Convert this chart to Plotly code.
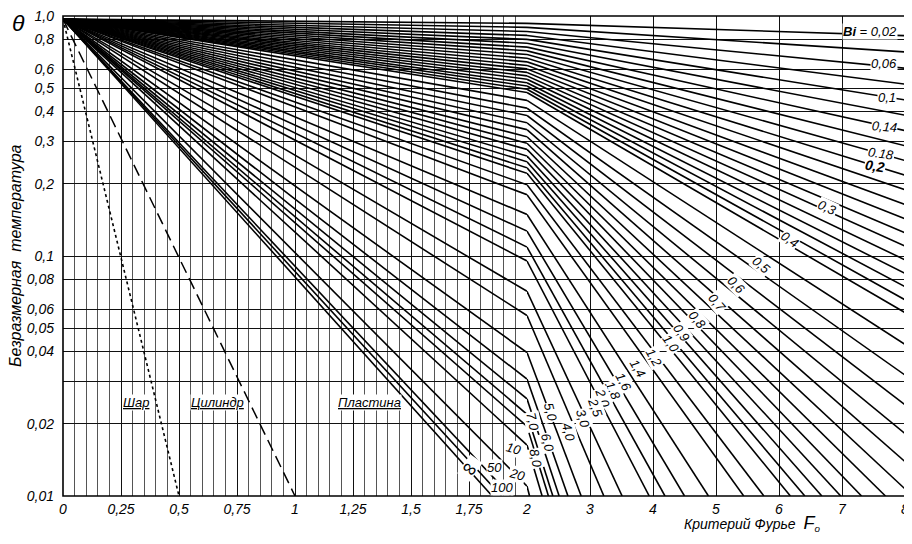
import math
import plotly.graph_objects as go

# ---------------- data ----------------
# Plate (Пластина) lines, labelled by Biot number
plate_bi = ["0,02", "0,04", "0,06", "0,08", "0,1", "0,12", "0,14", "0,16", "0,18", "0,2",
            "0,22", "0,24", "0,26", "0,28", "0,3", "0,32", "0,34", "0,36", "0,38", "0,4",
            "0,45", "0,5", "0,55", "0,6", "0,65", "0,7", "0,75", "0,8", "0,85", "0,9",
            "0,95", "1,0", "1,1", "1,2", "1,4", "1,6", "1,8", "2,0", "2,5", "3,0",
            "4,0", "5,0", "6,0", "7,0", "8,0", "10", "20", "50", "100", "∞"]
# common starting value at Fo = 0
theta_at_fo0 = 0.97
# theta where each line crosses Fo = 2 (None: reaches 0.01 earlier)
plate_theta_fo2 = [0.932, 0.897, 0.862, 0.830, 0.799, 0.770, 0.742, 0.716, 0.691, 0.667,
                   0.644, 0.622, 0.602, 0.582, 0.563, 0.545, 0.527, 0.511, 0.495, 0.480,
                   0.445, 0.413, 0.385, 0.359, 0.336, 0.314, 0.295, 0.278, 0.261, 0.247,
                   0.233, 0.221, 0.198, 0.180, 0.149, 0.127, 0.109, 0.0953, 0.0713, 0.0565,
                   0.0396, 0.0307, 0.0254, 0.0219, 0.0195, 0.0163, 0.0110, None, None, None]
# theta at Fo = 8 (None: line reaches 0.01 before Fo = 8)
plate_theta_fo8 = [0.828, 0.708, 0.606, 0.520, 0.447, 0.386, 0.333, 0.288, 0.250, 0.217,
                   0.189, 0.164, 0.143, 0.125, 0.110, 0.0964, 0.0846, 0.0745, 0.0657, 0.0581,
                   0.0428, 0.0319, 0.0240, 0.0182, 0.0139, 0.0107] + [None] * 24
# Fo where the line reaches theta = 0.01 (None: stays above it up to Fo = 8)
plate_fo_end = [None] * 26 + [7.69, 7.31, 6.98, 6.68, 6.41, 6.18, 5.76, 5.44, 4.88, 4.50,
                              4.19, 3.94, 3.51, 3.22, 2.86, 2.65, 2.51, 2.41, 2.34, 2.24,
                              2.04, 1.93, 1.89, 1.85]
theta_bottom = 0.01

sphere_fo = [0.0, 0.5]
sphere_theta = [0.97, 0.01]
cylinder_fo = [0.0, 1.0]
cylinder_theta = [0.97, 0.01]

x_ticks_left = [0, 0.25, 0.5, 0.75, 1, 1.25, 1.5, 1.75, 2]
x_ticktext_left = ["0", "0,25", "0,5", "0,75", "1", "1,25", "1,5", "1,75", "2"]
x_ticks_right = [3, 4, 5, 6, 7, 8]
x_ticktext_right = ["3", "4", "5", "6", "7", "8"]
y_ticks = [1.0, 0.8, 0.6, 0.5, 0.4, 0.3, 0.2, 0.1, 0.08, 0.06, 0.05, 0.04, 0.03, 0.02, 0.01]
y_ticktext = ["1,0", "0,8", "0,6", "0,5", "0,4", "0,3", "0,2", "0,1", "0,08", "0,06",
              "0,05", "0,04", " ", "0,02", "0,01"]

# ---------------- build line segments ----------------
lx, ly, rx, ry = [], [], [], []
for t2, t8, fe in zip(plate_theta_fo2, plate_theta_fo8, plate_fo_end):
    if t2 is not None:
        lx += [0, 2, None]; ly += [theta_at_fo0, t2, None]
        if t8 is not None:
            rx += [2, 8, None]; ry += [t2, t8, None]
        else:
            rx += [2, fe, None]; ry += [t2, theta_bottom, None]
    else:
        lx += [0, fe, None]; ly += [theta_at_fo0, theta_bottom, None]

fig = go.Figure()
LW = 1.6
fig.add_trace(go.Scatter(x=lx, y=ly, mode="lines", line=dict(color="black", width=LW),
                         xaxis="x", yaxis="y", hoverinfo="skip"))
fig.add_trace(go.Scatter(x=rx, y=ry, mode="lines", line=dict(color="black", width=LW),
                         xaxis="x2", yaxis="y", hoverinfo="skip"))
fig.add_trace(go.Scatter(x=sphere_fo, y=sphere_theta, mode="lines",
                         line=dict(color="black", width=1.6, dash="dot"),
                         xaxis="x", yaxis="y", hoverinfo="skip"))
fig.add_trace(go.Scatter(x=cylinder_fo, y=cylinder_theta, mode="lines",
                         line=dict(color="black", width=1.5, dash="12px,6px"),
                         xaxis="x", yaxis="y", hoverinfo="skip"))

FONT = "Liberation Sans"
ifont = dict(family=FONT, size=14, color="black", style="italic")

# the page body has an 8px margin, so the figure is sized 904x536
split = 464 / 842
fig.update_layout(
    width=904, height=536,
    margin=dict(l=55, r=7, t=8, b=48, autoexpand=False),
    paper_bgcolor="white", plot_bgcolor="white",
    showlegend=False,
    xaxis=dict(domain=[0, split], range=[0, 2], tickvals=x_ticks_left, ticktext=x_ticktext_left,
               tickfont=ifont, showgrid=True, gridcolor="#111", gridwidth=1.2,
               minor=dict(tick0=0, dtick=0.05, showgrid=True, gridcolor="#555", gridwidth=0.8),
               zeroline=False, showline=False, ticks="", ticklabelstandoff=3,
               ticklabeloverflow="allow", automargin=False),
    xaxis2=dict(domain=[split, 1], range=[2, 8], anchor="y", tickvals=x_ticks_right,
                ticktext=x_ticktext_right, tickfont=ifont, showgrid=True, gridcolor="#111",
                gridwidth=1.2, zeroline=False, showline=False, ticks="", ticklabelstandoff=3,
                ticklabeloverflow="allow", automargin=False),
    yaxis=dict(type="log", range=[-2, 0], tickvals=y_ticks, ticktext=y_ticktext,
               tickfont=ifont, showgrid=True, gridcolor="#111", gridwidth=1.1,
               zeroline=False, showline=False, ticks="", ticklabelstandoff=8,
               ticklabeloverflow="allow", automargin=False),
)

# frame
fig.add_shape(type="rect", xref="paper", yref="paper", x0=0, x1=1, y0=0, y1=1,
              line=dict(color="black", width=1.6))

ann = []
def lab(text, x, theta, xref, angle=0, size=13, bold=False):
    ann.append(dict(text=text, x=x, y=math.log10(theta), xref=xref, yref="y", showarrow=False,
                    textangle=angle,
                    font=dict(family=FONT, size=size, color="black", style="italic",
                              weight="bold" if bold else "normal"),
                    bgcolor="white", borderpad=0, xanchor="center", yanchor="middle"))

# Bi labels
lab("<b>Bi</b> = 0,02", 7.444, 0.858, "x2", 0, 13)
lab("0,06", 7.667, 0.631, "x2")
lab("0,1", 7.714, 0.4597, "x2")
lab("0,14", 7.667, 0.348, "x2", 5)
lab("0,18", 7.619, 0.2686, "x2", 8)
lab("0,2", 7.524, 0.237, "x2", 8, 14, True)
lab("0,3", 6.762, 0.160, "x2", 25)
lab("0,4", 6.175, 0.1177, "x2", 35)
lab("0,5", 5.73, 0.0917, "x2", 40)
lab("0,6", 5.333, 0.0757, "x2", 45)
lab("0,7", 5.016, 0.0643, "x2", 50)
lab("0,8", 4.714, 0.0541, "x2", 50)
lab("0,9", 4.444, 0.0478, "x2", 55)
lab("1,0", 4.286, 0.0434, "x2", 55)
lab("1,2", 4.016, 0.0379, "x2", 60)
lab("1,4", 3.762, 0.0341, "x2", 60)
lab("1,6", 3.524, 0.0299, "x2", 62)
lab("1,8", 3.365, 0.0276, "x2", 65)
lab("2,0", 3.206, 0.0256, "x2", 70)
lab("2,5", 3.079, 0.0233, "x2", 70)
lab("3,0", 2.889, 0.0211, "x2", 72)
lab("4,0", 2.651, 0.0185, "x2", 75)
lab("5,0", 2.365, 0.0224, "x2", 75)
lab("6,0", 2.333, 0.0166, "x2", 75)
lab("7,0", 2.095, 0.0203, "x2", 78)
lab("8,0", 2.127, 0.0144, "x2", 78)
lab("10", 1.940, 0.0157, "x", 15)
lab("20", 1.957, 0.01224, "x", 15)
lab("50", 1.862, 0.0132, "x", 0)
lab("100", 1.892, 0.0108, "x", 0)
lab("∞", 1.754, 0.0131, "x", 35, 20)

# body labels
lab("<u>Шар</u>", 0.315, 0.0246, "x", 0, 13)
lab("<u>Цилиндр</u>", 0.664, 0.0246, "x", 0, 13)
lab("<u>Пластина</u>", 1.323, 0.0246, "x", 0, 13)

# axis titles
ann.append(dict(text="θ", xref="paper", yref="paper", x=-0.053, y=0.985, showarrow=False,
                font=dict(family=FONT, size=23, color="black", style="italic"),
                xanchor="center", yanchor="middle"))
ann.append(dict(text="Безразмерная  температура", xref="paper", yref="paper", x=-0.057, y=0.50,
                showarrow=False, textangle=-90,
                font=dict(family=FONT, size=16, color="black", style="italic"),
                xanchor="center", yanchor="middle"))
ann.append(dict(text="Критерий Фурье  <span style='font-size:18px'>F</span><sub>o</sub>",
                xref="paper", yref="paper", x=0.902, y=-0.058, showarrow=False,
                font=dict(family=FONT, size=14, color="black", style="italic"),
                xanchor="right", yanchor="middle"))
fig.update_layout(annotations=ann)

fig.write_html("out.html")
